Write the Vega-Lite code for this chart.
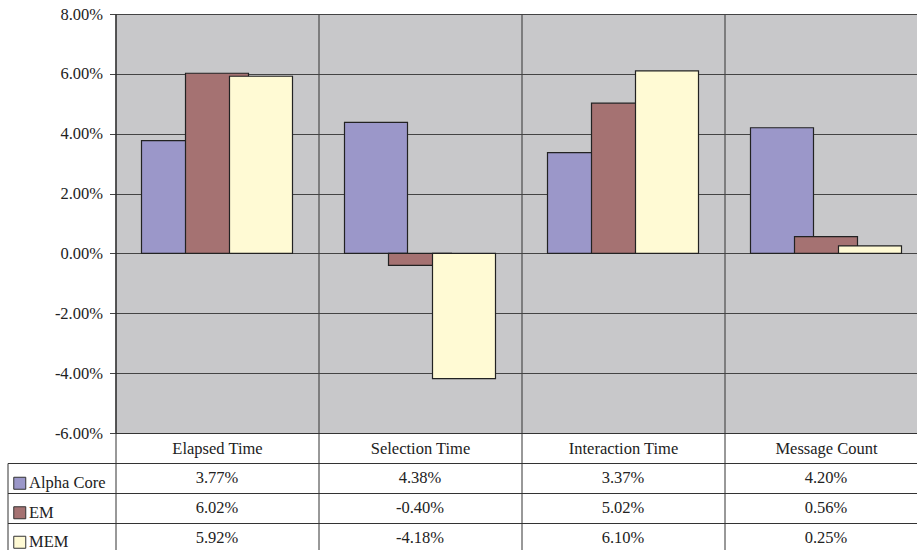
{
  "$schema": "https://vega.github.io/schema/vega-lite/v6.json",
  "autosize": {"type": "pad"},
  "padding": {"left": 7.5, "top": 6, "right": 0, "bottom": 0},
  "background": "white",
  "config": {
    "view": {"stroke": null},
    "font": "Liberation Serif",
    "locale": {
      "number": {"decimal": ".", "thousands": ",", "grouping": [3], "currency": ["$", ""], "minus": "-"}
    }
  },
  "datasets": {
    "rows": [
      {"category": "Elapsed Time", "series": "Alpha Core", "value": 0.0377},
      {"category": "Elapsed Time", "series": "EM", "value": 0.0602},
      {"category": "Elapsed Time", "series": "MEM", "value": 0.0592},
      {"category": "Selection Time", "series": "Alpha Core", "value": 0.0438},
      {"category": "Selection Time", "series": "EM", "value": -0.0040},
      {"category": "Selection Time", "series": "MEM", "value": -0.0418},
      {"category": "Interaction Time", "series": "Alpha Core", "value": 0.0337},
      {"category": "Interaction Time", "series": "EM", "value": 0.0502},
      {"category": "Interaction Time", "series": "MEM", "value": 0.0610},
      {"category": "Message Count", "series": "Alpha Core", "value": 0.0420},
      {"category": "Message Count", "series": "EM", "value": 0.0056},
      {"category": "Message Count", "series": "MEM", "value": 0.0025}
    ]
  },
  "columns": 2,
  "spacing": {"row": 30, "column": 0},
  "bounds": "flush",
  "align": "each",
  "concat": [
    {
      "width": 108,
      "height": 419,
      "data": {"values": []},
      "mark": "point"
    },
    {
      "width": 812,
      "height": 419,
      "data": {"name": "rows"},
      "view": {"fill": "#C8C8CA", "stroke": null},
      "encoding": {
        "x": {
          "field": "category",
          "type": "nominal",
          "sort": null,
          "scale": {"paddingInner": 0, "paddingOuter": 0},
          "axis": {
            "title": null,
            "tickBand": "extent",
            "grid": true,
            "gridColor": "#333333",
            "gridOpacity": 1,
            "ticks": true,
            "tickSize": 30,
            "tickColor": "#333333",
            "domain": true,
            "domainColor": "#333333",
            "labelAngle": 0,
            "labelPadding": -15,
            "labelBaseline": "middle",
            "labelFont": "Liberation Serif",
            "labelFontSize": 16.5,
            "labelColor": "#222222"
          }
        },
        "y": {
          "field": "value",
          "type": "quantitative",
          "scale": {"domain": [-0.06, 0.08], "nice": false, "zero": true},
          "axis": {
            "title": null,
            "values": [-0.06, -0.04, -0.02, 0, 0.02, 0.04, 0.06, 0.08],
            "format": ".2%",
            "grid": true,
            "gridColor": "#444444",
            "gridOpacity": 1,
            "domain": true,
            "domainColor": "#222222",
            "ticks": true,
            "tickSize": 6,
            "tickColor": "#444444",
            "labelPadding": 7,
            "labelFont": "Liberation Serif",
            "labelFontSize": 16.5,
            "labelColor": "#222222"
          }
        },
        "color": {
          "field": "series",
          "type": "nominal",
          "scale": {"domain": ["Alpha Core", "EM", "MEM"], "range": ["#9B97C9", "#A57272", "#FFFAD4"]},
          "legend": {
            "orient": "none",
            "legendX": 4,
            "legendY": 461,
            "title": null,
            "symbolType": "square",
            "symbolSize": 144,
            "symbolStrokeColor": "#333333",
            "symbolStrokeWidth": 1,
            "symbolOpacity": 1,
            "labelFont": "Liberation Serif",
            "labelFontSize": 16.5,
            "labelColor": "#222222",
            "labelOffset": 1,
            "rowPadding": 12.5,
            "padding": 0
          }
        }
      },
      "layer": [
        {
          "transform": [{"filter": "datum.series === 'Alpha Core'"}],
          "mark": {"type": "bar", "width": 63, "xOffset": -44, "stroke": "#222222", "strokeWidth": 1.2, "opacity": 1}
        },
        {
          "transform": [{"filter": "datum.series === 'EM'"}],
          "mark": {"type": "bar", "width": 63, "xOffset": 0, "stroke": "#222222", "strokeWidth": 1.2, "opacity": 1}
        },
        {
          "transform": [{"filter": "datum.series === 'MEM'"}],
          "mark": {"type": "bar", "width": 63, "xOffset": 44, "stroke": "#222222", "strokeWidth": 1.2, "opacity": 1}
        }
      ]
    },
    {
      "width": 108,
      "height": 90,
      "data": {"name": "rows"},
      "mark": {"type": "rect", "opacity": 0},
      "encoding": {
        "y": {
          "field": "series",
          "type": "nominal",
          "sort": ["Alpha Core", "EM", "MEM"],
          "scale": {"paddingInner": 0, "paddingOuter": 0},
          "axis": {
            "title": null,
            "orient": "left",
            "labels": false,
            "ticks": false,
            "domain": true,
            "domainColor": "#333333",
            "grid": true,
            "tickBand": "extent",
            "gridColor": "#333333",
            "gridOpacity": 1
          }
        }
      }
    },
    {
      "width": 812,
      "height": 90,
      "data": {"name": "rows"},
      "mark": {"type": "text", "font": "Liberation Serif", "fontSize": 16.5, "color": "#222222"},
      "encoding": {
        "x": {
          "field": "category",
          "type": "nominal",
          "sort": null,
          "scale": {"paddingInner": 0, "paddingOuter": 0},
          "axis": {
            "title": null,
            "labels": false,
            "ticks": false,
            "domain": false,
            "grid": true,
            "tickBand": "extent",
            "gridColor": "#333333",
            "gridOpacity": 1
          }
        },
        "y": {
          "field": "series",
          "type": "nominal",
          "sort": ["Alpha Core", "EM", "MEM"],
          "scale": {"paddingInner": 0, "paddingOuter": 0},
          "axis": {
            "title": null,
            "labels": false,
            "ticks": false,
            "domain": false,
            "grid": true,
            "tickBand": "extent",
            "gridColor": "#333333",
            "gridOpacity": 1
          }
        },
        "text": {"field": "value", "type": "quantitative", "format": ".2%"}
      }
    }
  ]
}
